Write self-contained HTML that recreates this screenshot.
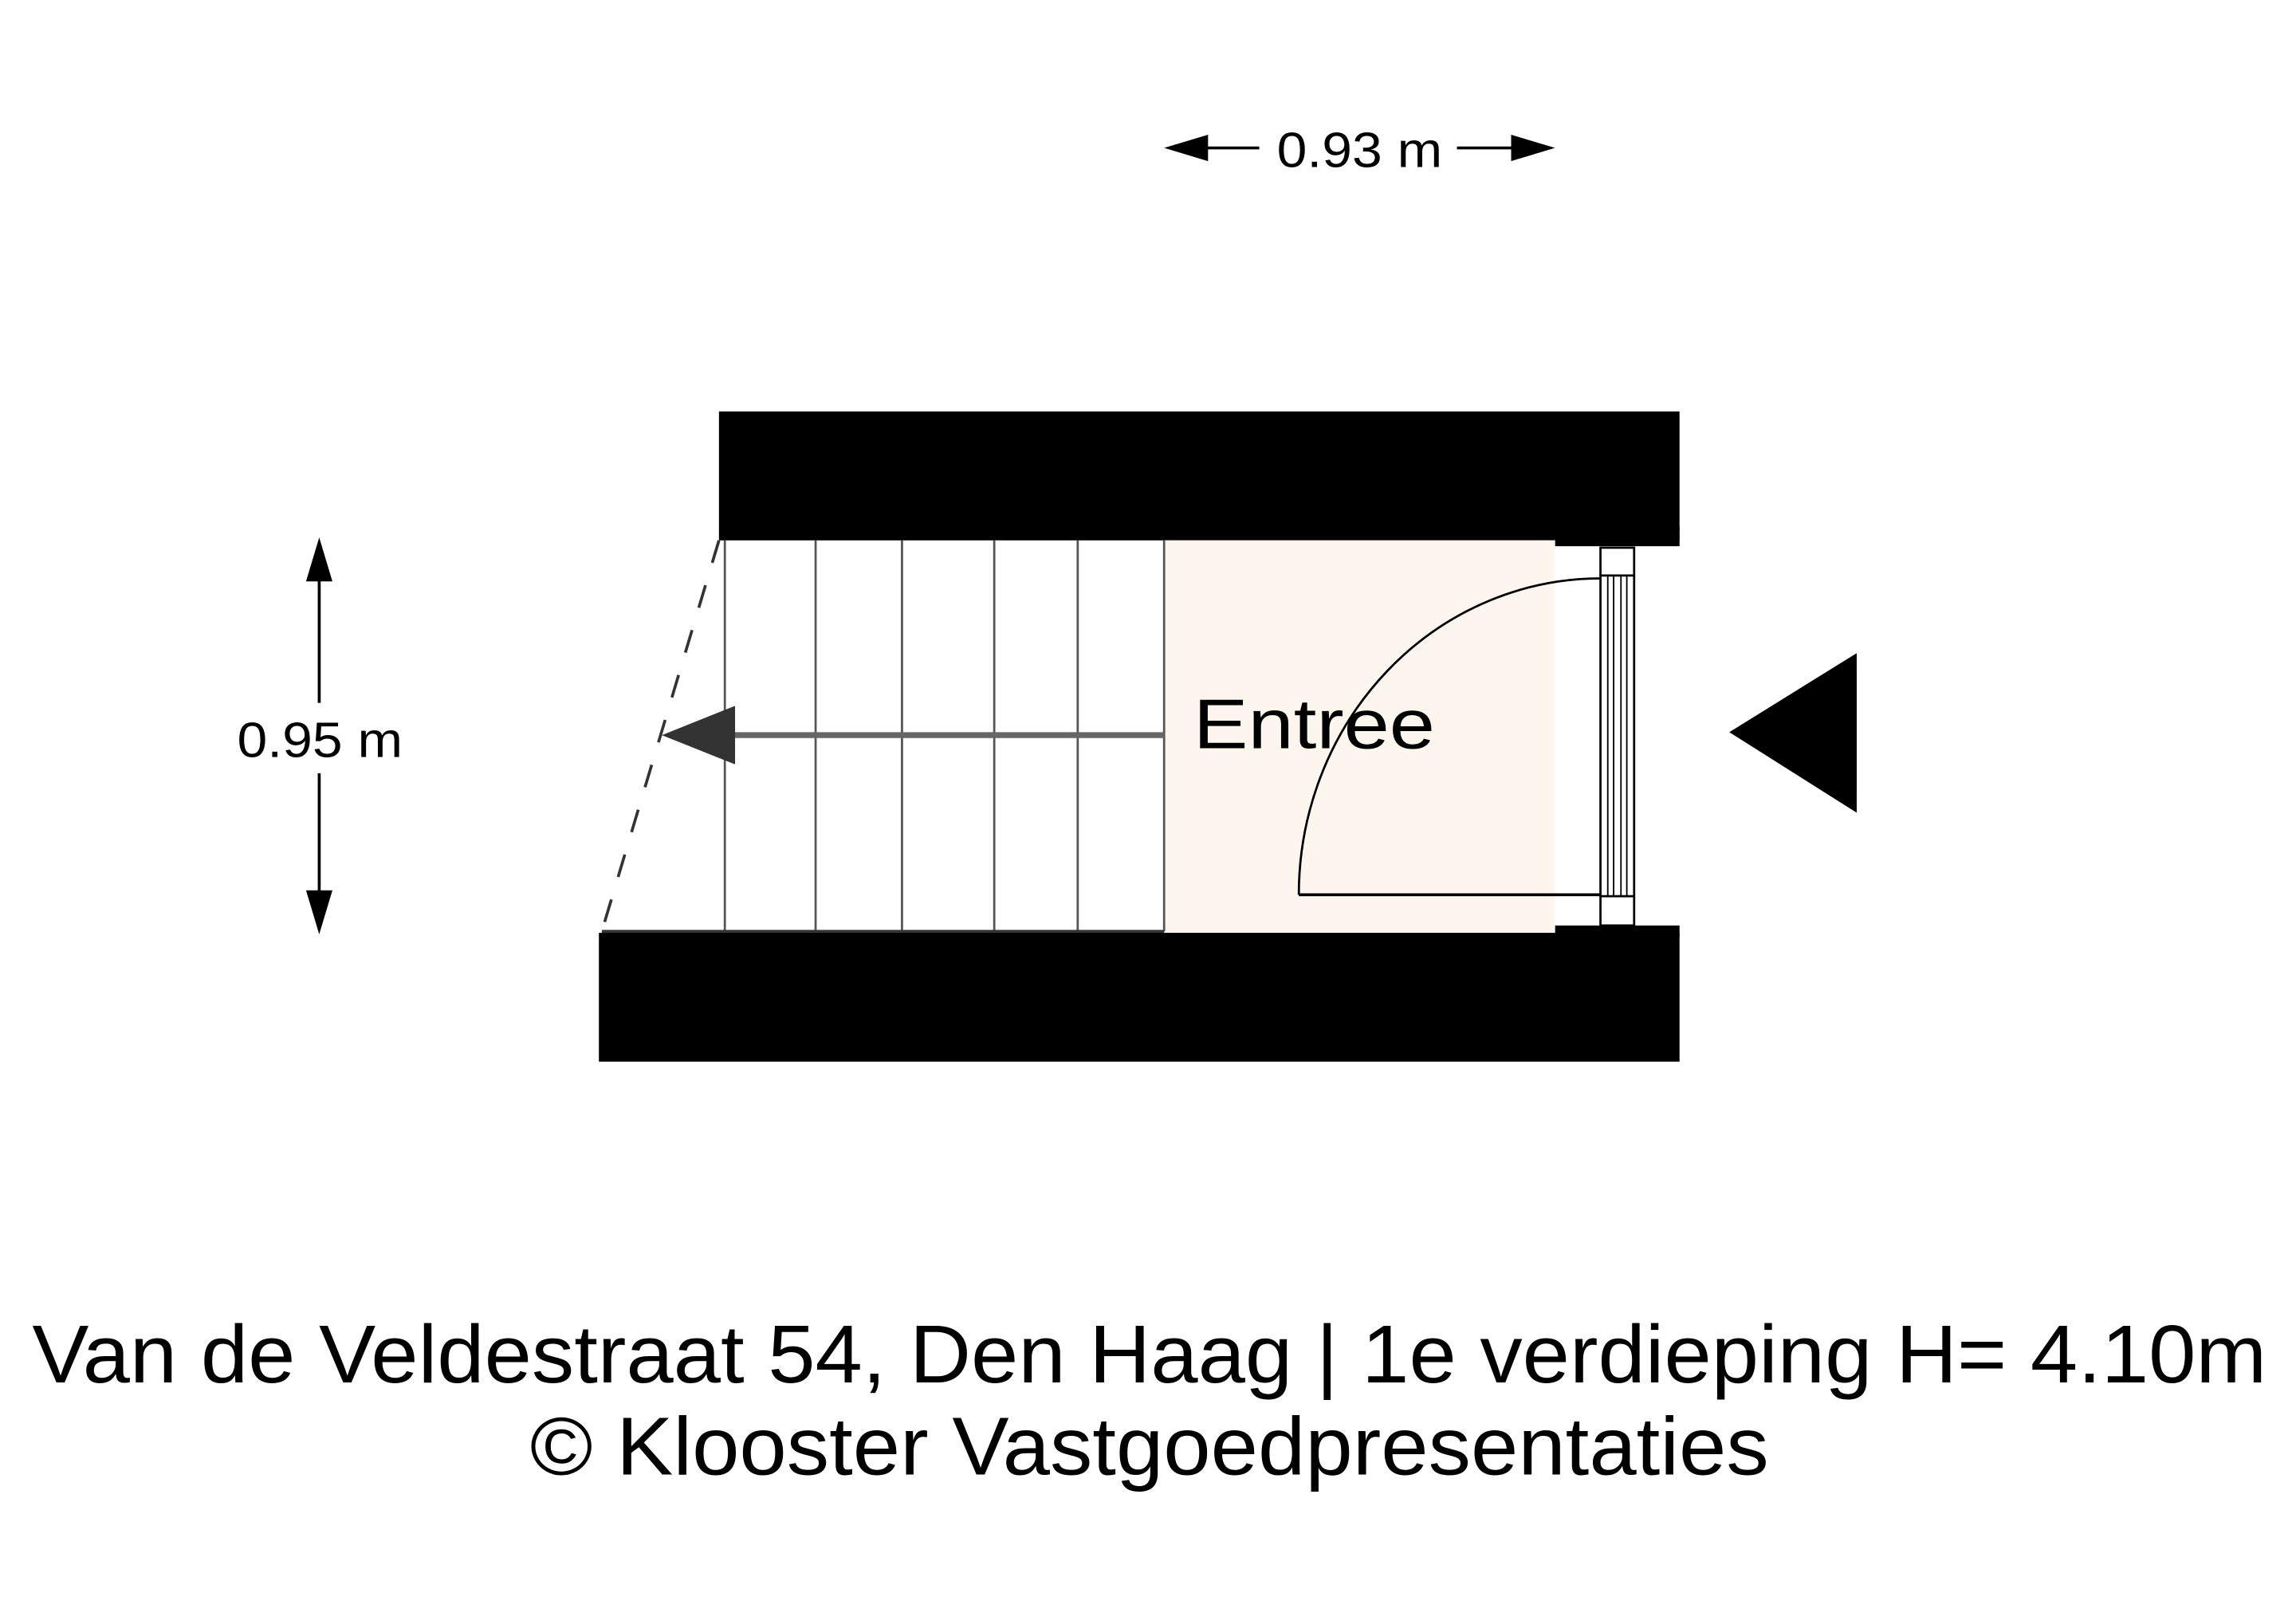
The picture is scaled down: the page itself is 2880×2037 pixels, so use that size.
<!DOCTYPE html>
<html><head><meta charset="utf-8"><style>html,body{margin:0;padding:0;background:#fff}svg{display:block}</style></head>
<body>
<svg width="2880" height="2037" viewBox="0 0 1568 1109" xmlns="http://www.w3.org/2000/svg" font-family="Liberation Sans, Arial, sans-serif">
<rect width="1568" height="1109" fill="#fff"/>
<!-- walls -->
<rect x="491" y="281" width="656" height="88" fill="#000"/>
<rect x="1062" y="360" width="85" height="13" fill="#000"/>
<rect x="409" y="637" width="738" height="88" fill="#000"/>
<rect x="1062" y="632" width="85" height="8" fill="#000"/>
<!-- entree floor -->
<rect x="795" y="369" width="267" height="268" fill="#fdf6ee"/>
<!-- stairs -->
<g stroke="#555" stroke-width="1.5">
<line x1="495" y1="369" x2="495" y2="636"/>
<line x1="557" y1="369" x2="557" y2="636"/>
<line x1="616" y1="369" x2="616" y2="636"/>
<line x1="679" y1="369" x2="679" y2="636"/>
<line x1="736" y1="369" x2="736" y2="636"/>
<line x1="795" y1="369" x2="795" y2="636"/>
</g>
<line x1="411" y1="636" x2="795" y2="636" stroke="#333" stroke-width="2"/>
<line x1="491" y1="369" x2="411" y2="636" stroke="#333" stroke-width="2" stroke-dasharray="16,16"/>
<line x1="500" y1="502" x2="795" y2="502" stroke="#666" stroke-width="4"/>
<polygon points="452,502 502,482 502,522" fill="#333"/>
<!-- door -->
<rect x="1093" y="374" width="23" height="258" fill="#fff" stroke="#000" stroke-width="1.5"/>
<line x1="1093" y1="393" x2="1116" y2="393" stroke="#000" stroke-width="1.5"/>
<line x1="1093" y1="612" x2="1116" y2="612" stroke="#000" stroke-width="1.5"/>
<g stroke="#000" stroke-width="1">
<line x1="1098" y1="393" x2="1098" y2="612"/>
<line x1="1102" y1="393" x2="1102" y2="612"/>
<line x1="1107" y1="393" x2="1107" y2="612"/>
<line x1="1111" y1="393" x2="1111" y2="612"/>
</g>
<line x1="887" y1="611" x2="1093" y2="611" stroke="#000" stroke-width="2"/>
<path d="M887 611 A206 216 0 0 1 1093 395" fill="none" stroke="#000" stroke-width="1.5"/>
<!-- entry triangle -->
<polygon points="1181,500 1268,446 1268,555" fill="#000"/>
<text x="815" y="511" font-size="48" textLength="165" lengthAdjust="spacingAndGlyphs">Entree</text>
<!-- top dim -->
<line x1="810" y1="101" x2="860" y2="101" stroke="#000" stroke-width="2"/>
<polygon points="795,101 825,92 825,110" fill="#000"/>
<line x1="995" y1="101" x2="1047" y2="101" stroke="#000" stroke-width="2"/>
<polygon points="1062,101 1032,92 1032,110" fill="#000"/>
<text x="872" y="114" font-size="34" textLength="113" lengthAdjust="spacingAndGlyphs">0.93 m</text>
<!-- vertical dim -->
<line x1="218" y1="380" x2="218" y2="480" stroke="#000" stroke-width="2"/>
<line x1="218" y1="528" x2="218" y2="625" stroke="#000" stroke-width="2"/>
<polygon points="218,367 209,397 227,397" fill="#000"/>
<polygon points="218,638 209,608 227,608" fill="#000"/>
<text x="162" y="517" font-size="34" textLength="113" lengthAdjust="spacingAndGlyphs">0.95 m</text>
<!-- caption -->
<text x="22" y="944" font-size="56" textLength="1526" lengthAdjust="spacingAndGlyphs">Van de Veldestraat 54, Den Haag | 1e verdieping H= 4.10m</text>
<text x="362" y="1007" font-size="56" textLength="846" lengthAdjust="spacingAndGlyphs">© Klooster Vastgoedpresentaties</text>
</svg>
</body></html>
